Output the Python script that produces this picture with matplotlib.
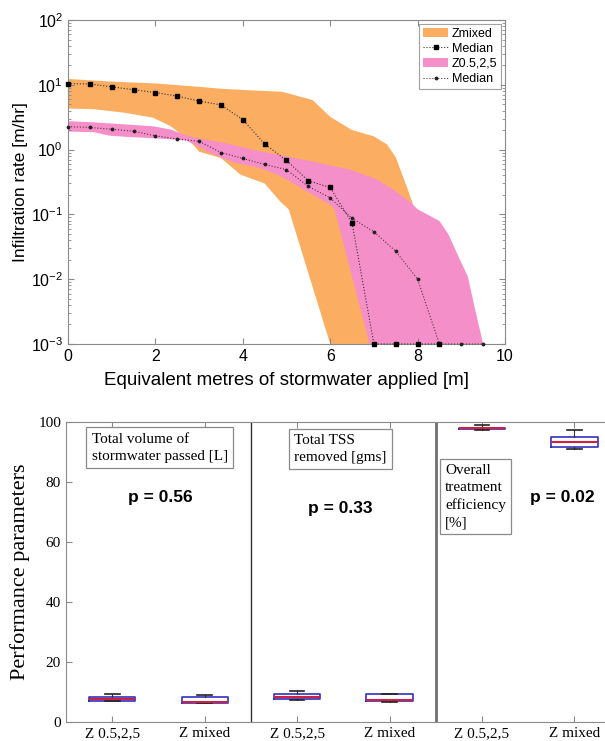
import numpy as np
import matplotlib.pyplot as plt
from matplotlib.ticker import LogLocator, NullFormatter

plt.rcParams['font.family'] = ['Liberation Sans', 'DejaVu Sans']

# --- top panel: infiltration rate bands and medians ---
mix_up_x = [0, 1, 2, 3, 3.5, 4.2, 4.9, 5.3, 5.6, 6.0, 6.5, 7.0, 7.3, 7.5, 7.75, 7.9, 8.45]
mix_up_y = [12.3, 11.2, 10.5, 9.3, 8.7, 8.2, 7.8, 6.6, 5.8, 3.2, 2.0, 1.6, 1.2, 0.76, 0.27, 0.14, 0.001]
mix_lo_x = [0, 0.6, 1.3, 1.95, 2.35, 2.7, 2.9, 3.0, 3.5, 3.95, 4.5, 4.85, 5.05, 6.0]
mix_lo_y = [4.3, 4.2, 3.7, 3.1, 2.3, 1.5, 1.12, 0.93, 0.74, 0.41, 0.30, 0.16, 0.12, 0.001]

z_up_x = [0, 0.6, 1.3, 1.95, 2.35, 2.7, 3.0, 3.6, 4.2, 4.9, 5.7, 6.45, 7.05, 7.45, 7.85, 8.0,
          8.5, 8.7, 9.0, 9.15, 9.3, 9.5]
z_up_y = [2.75, 2.63, 2.45, 2.29, 2.04, 1.66, 1.48, 1.26, 1.0, 0.81, 0.63, 0.49, 0.35, 0.24,
          0.15, 0.12, 0.079, 0.05, 0.018, 0.011, 0.0038, 0.001]
z_lo_x = [0, 0.6, 0.95, 1.35, 2.1, 2.7, 2.9, 3.25, 3.8, 4.4, 4.9, 5.55, 6.0, 6.1, 6.9]
z_lo_y = [1.9, 1.85, 1.64, 1.57, 1.48, 1.38, 1.2, 0.89, 0.63, 0.52, 0.38, 0.21, 0.14, 0.12, 0.001]

mix_med_x = [0, 0.5, 1, 1.5, 2, 2.5, 3, 3.5, 4, 4.5, 5, 5.5, 6, 6.5, 7, 7.5, 8, 8.5]
mix_med_y = [10.4, 10.3, 9.3, 8.4, 7.6, 6.7, 5.6, 4.9, 2.9, 1.22, 0.68, 0.33, 0.26, 0.074,
             0.001, 0.001, 0.001, 0.001]
z_med_x = [0, 0.5, 1, 1.5, 2, 2.5, 3, 3.5, 4, 4.5, 5, 5.5, 6, 6.5, 7, 7.5, 8, 8.5, 9, 9.5]
z_med_y = [2.26, 2.2, 2.06, 1.92, 1.63, 1.46, 1.34, 0.90, 0.73, 0.59, 0.49, 0.27, 0.18, 0.087,
           0.054, 0.027, 0.010, 0.001, 0.001, 0.001]

# --- bottom panel: box plot summaries ---
box_labels = ['Z 0.5,2,5', 'Z mixed', 'Z 0.5,2,5', 'Z mixed', 'Z 0.5,2,5', 'Z mixed']
whislo = [6.9, 6.2, 7.5, 6.7, 97.5, 90.9]
q1 = [6.9, 6.5, 7.7, 7.0, 97.6, 91.8]
med = [7.7, 6.8, 8.4, 7.3, 97.9, 93.4]
q3 = [8.3, 8.4, 9.2, 9.2, 98.1, 95.1]
whishi = [9.2, 8.9, 10.3, 9.3, 99.0, 97.3]
panel_titles = ['Total volume of\nstormwater passed [L]', 'Total TSS\nremoved [gms]',
                'Overall\ntreatment\nefficiency\n[%]']
p_values = ['p = 0.56', 'p = 0.33', 'p = 0.02']

orange = '#fbad62'
pink = '#f58fc9'
grey = '#8a8a8a'

fig = plt.figure(figsize=(6.05, 7.41), dpi=100)

ax = fig.add_axes([0.1124, 0.5358, 0.7223, 0.4372])
ax.set_yscale('log')
ax.fill(mix_up_x + mix_lo_x[::-1], mix_up_y + mix_lo_y[::-1], color=orange, lw=0, label='Zmixed')
ax.plot(mix_med_x, mix_med_y, ls=':', lw=0.8, color='#333333', marker='s', ms=3.5,
        mfc='black', mec='black', label='Median', clip_on=False, zorder=5)
ax.fill(z_up_x + z_lo_x[::-1], z_up_y + z_lo_y[::-1], color=pink, lw=0, label='Z0.5,2,5')
ax.plot(z_med_x, z_med_y, ls=':', lw=0.8, color='#553344', marker='.', ms=3.5,
        mfc='#222222', mec='#222222', label='Median', clip_on=False, zorder=4)
ax.set_xlim(0, 10)
ax.set_ylim(1e-3, 1e2)
ax.set_xticks([0, 2, 4, 6, 8, 10])
ax.yaxis.set_minor_locator(LogLocator(base=10, subs=np.arange(2, 10)))
ax.yaxis.set_minor_formatter(NullFormatter())
ax.tick_params(which='both', direction='in', top=True, right=True, color=grey, labelsize=11.5)
ax.tick_params(which='major', length=4)
ax.tick_params(which='minor', length=2)
for s in ax.spines.values():
    s.set_color(grey)
ax.set_xlabel('Equivalent metres of stormwater applied [m]', fontsize=13.5, labelpad=6)
ax.set_ylabel('Infiltration rate [m/hr]', fontsize=12.5, labelpad=2)
leg = ax.legend(loc='upper right', fontsize=9, frameon=True, fancybox=False,
                borderpad=0.3, handlelength=2.0, handletextpad=0.3, labelspacing=0.25,
                borderaxespad=0.3)
leg.get_frame().set_edgecolor(grey)
leg.get_frame().set_linewidth(0.8)

# bottom box plots
bx = fig.add_axes([0.109, 0.0256, 0.891, 0.4049])
stats = []
for i in range(len(med)):
    stats.append(dict(whislo=whislo[i], q1=q1[i], med=med[i], q3=q3[i], whishi=whishi[i],
                      fliers=[]))
pos = np.arange(1, len(med) + 1)
bx.bxp(stats, positions=pos, widths=0.5, showfliers=False,
       boxprops=dict(color='#3030c0', lw=1.2),
       medianprops=dict(color='#d02040', lw=1.5),
       whiskerprops=dict(color='#333333', lw=0.8),
       capprops=dict(color='#222222', lw=1.2), capwidths=0.16)
bx.set_xlim(0.5, 6.33)
bx.set_ylim(0, 100)
bx.set_xticks(pos)
bx.set_xticklabels(box_labels, family='Liberation Serif', fontsize=11)
bx.set_yticks([0, 20, 40, 60, 80, 100])
for t in bx.get_yticklabels():
    t.set_family('Liberation Serif')
    t.set_fontsize(11)
bx.tick_params(direction='in', top=True, color=grey, length=4)
bx.spines['right'].set_visible(False)
for s in ['left', 'top', 'bottom']:
    bx.spines[s].set_color(grey)
bx.axvline(2.5, color='#333333', lw=1.0)
bx.axvline(4.5, color='#707070', lw=2.0)
bx.set_ylabel('Performance parameters', family='Liberation Serif', fontsize=16, labelpad=6)

title_pos = [(0.78, 96.5), (2.97, 96.0), (4.6, 86.0)]
p_pos = [(1.52, 75), (3.47, 71.3), (5.87, 75)]
for (tx, ty), s in zip(title_pos, panel_titles):
    bx.text(tx, ty, s, family='Liberation Serif', fontsize=11, ha='left', va='top',
            linespacing=1.4,
            bbox=dict(boxstyle='square,pad=0.35', fc='white', ec=grey, lw=0.9))
for (px, py), s in zip(p_pos, p_values):
    bx.text(px, py, s, fontsize=12.5, fontweight='bold', ha='center', va='center')

fig.savefig('out.png', dpi=100)
